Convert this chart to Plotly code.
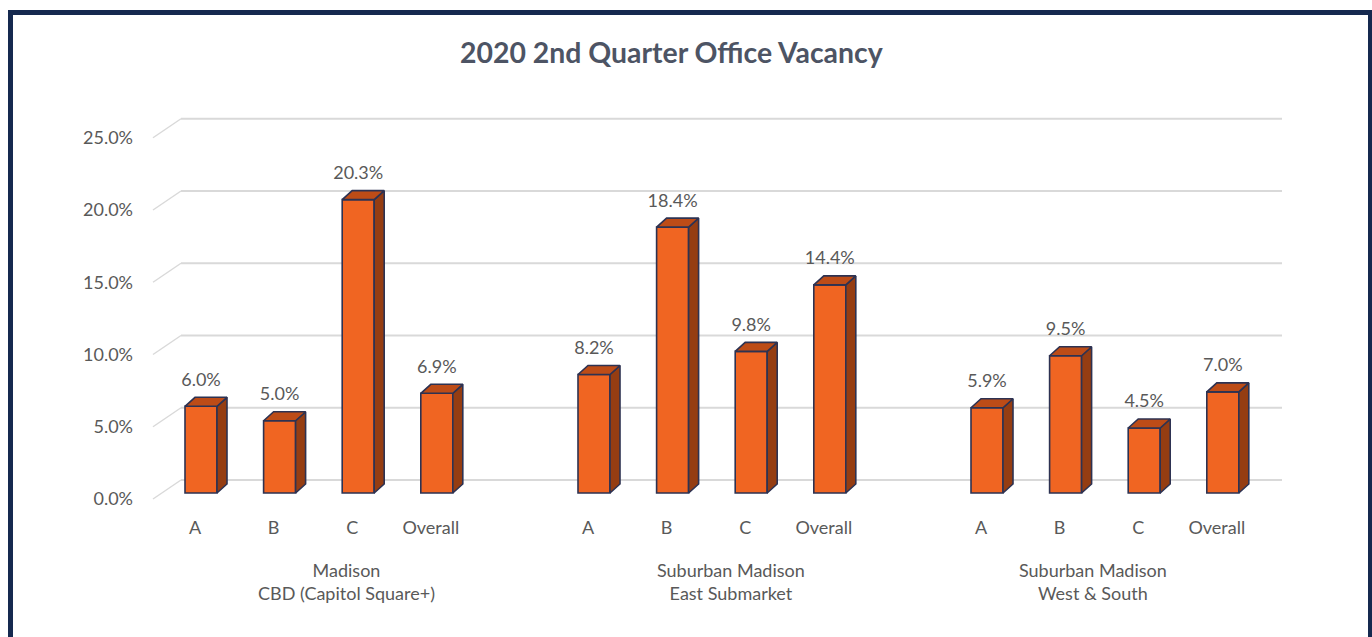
import plotly.graph_objects as go

# ---------------- data ----------------
title_text = "2020 2nd Quarter Office Vacancy"
group_labels = ["Madison<br>CBD (Capitol Square+)",
                "Suburban Madison<br>East Submarket",
                "Suburban Madison<br>West & South"]
classes = ["A", "B", "C", "Overall"]
madison_cbd = [6.0, 5.0, 20.3, 6.9]
suburban_east = [8.2, 18.4, 9.8, 14.4]
suburban_west = [5.9, 9.5, 4.5, 7.0]
y_ticks = [0, 5, 10, 15, 20, 25]

series = [madison_cbd, suburban_east, suburban_west]

# ---------------- layout geometry (pixels) ----------------
W, H = 1372, 637
ML, MR, MT, MB = 150, 82, 100, 132
PLOT_W = W - ML - MR
PLOT_H = H - MT - MB
PX_X = 78.6     # px per category slot
PX_Y = 14.45    # px per percentage point
FIRST_BAR_PX = 201
ZERO_PX = 493

x_lo = -(FIRST_BAR_PX - ML) / PX_X
x_hi = x_lo + PLOT_W / PX_X
y_lo = -((H - MB) - ZERO_PX) / PX_Y
y_hi = y_lo + PLOT_H / PX_Y


def dx(px):
    return px / PX_X


def dy(px):
    return px / PX_Y


def paper_x(px):
    return (px - ML) / PLOT_W


def paper_y(py):
    return ((H - MB) - py) / PLOT_H


BAR_W = dx(32)
DEPTH_X = dx(10)
DEPTH_Y = dy(9)
TICK_PLANE = -dy(6)          # tick labels sit slightly in front of bars
WALL_DX = dx(28)             # side wall depth
WALL_DY = dy(19)
GRID_RIGHT = x_lo + dx(1282 - ML)
SLOTS_PER_GROUP = 5

FRONT = "#f06522"
TOP = "#bd4c17"
SIDE = "#953d12"
EDGE = "#2d3252"
GRID = "#d9d9d9"
TEXT = "#595959"
FONT = "Lato"

xs, vals, cats = [], [], []
for g, vals_g in enumerate(series):
    for k, v in enumerate(vals_g):
        xs.append(g * SLOTS_PER_GROUP + k)
        vals.append(v)
        cats.append(classes[k])

fig = go.Figure()

# front faces
fig.add_trace(go.Bar(
    x=xs, y=vals, width=BAR_W,
    marker=dict(color=FRONT, line=dict(color=EDGE, width=1.6)),
    hoverinfo="skip", showlegend=False))

# side faces and top faces
side_x, side_y, top_x, top_y = [], [], [], []
for c, v in zip(xs, vals):
    r = c + BAR_W / 2
    l = c - BAR_W / 2
    side_x += [r, r + DEPTH_X, r + DEPTH_X, r, r, None]
    side_y += [0, DEPTH_Y, v + DEPTH_Y, v, 0, None]
    top_x += [l, l + DEPTH_X, r + DEPTH_X, r, l, None]
    top_y += [v, v + DEPTH_Y, v + DEPTH_Y, v, v, None]

fig.add_trace(go.Scatter(x=side_x, y=side_y, mode="lines", fill="toself",
                         fillcolor=SIDE, line=dict(color=EDGE, width=1.6),
                         hoverinfo="skip", showlegend=False))
fig.add_trace(go.Scatter(x=top_x, y=top_y, mode="lines", fill="toself",
                         fillcolor=TOP, line=dict(color=EDGE, width=1.6),
                         hoverinfo="skip", showlegend=False))

# data labels
fig.add_trace(go.Scatter(
    x=xs, y=[v + dy(25) for v in vals], mode="text",
    text=[f"{v:.1f}%" for v in vals], textposition="middle center",
    textfont=dict(family=FONT, size=18, color=TEXT),
    hoverinfo="skip", showlegend=False))

# back wall + side wall gridlines
shapes = []
wall_front_x = x_lo + dx(3)
for t in y_ticks:
    y_front = t + TICK_PLANE
    y_back = y_front + WALL_DY
    shapes.append(dict(type="line", xref="x", yref="y", layer="below",
                       x0=wall_front_x, y0=y_front,
                       x1=wall_front_x + WALL_DX, y1=y_back,
                       line=dict(color=GRID, width=1.5)))
    shapes.append(dict(type="line", xref="x", yref="y", layer="below",
                       x0=wall_front_x + WALL_DX, y0=y_back,
                       x1=GRID_RIGHT, y1=y_back,
                       line=dict(color=GRID, width=2.2)))

# outer navy frame
shapes.append(dict(type="rect", xref="paper", yref="paper", layer="above",
                   x0=paper_x(10.5), x1=paper_x(1370.5),
                   y0=paper_y(660), y1=paper_y(12.5),
                   line=dict(color="#15294f", width=5),
                   fillcolor="rgba(0,0,0,0)"))

annotations = [dict(text=title_text, xref="paper", yref="paper",
                    x=paper_x(671), y=paper_y(52), xanchor="center",
                    yanchor="middle", showarrow=False,
                    font=dict(family=FONT, size=28.4, color="#4d5464",
                              weight="bold"))]

group_shift_px = [28, 19, -12]
for g, lab in enumerate(group_labels):
    center = g * SLOTS_PER_GROUP + (len(classes) - 1) / 2
    annotations.append(dict(text=lab, xref="x", yref="paper",
                            x=center + dx(group_shift_px[g]),
                            y=paper_y(581), xanchor="center",
                            yanchor="middle", showarrow=False,
                            font=dict(family=FONT, size=18, color=TEXT)))

fig.update_layout(
    width=W, height=H, autosize=False,
    margin=dict(l=ML, r=MR, t=MT, b=MB, pad=0),
    paper_bgcolor="white", plot_bgcolor="white",
    shapes=shapes, annotations=annotations,
    showlegend=False,
    xaxis=dict(range=[x_lo, x_hi], showgrid=False, zeroline=False,
               showline=False, ticks="",
               tickvals=[x - dx(6) for x in xs], ticktext=cats,
               tickfont=dict(family=FONT, size=18, color=TEXT),
               ticklabelstandoff=10),
    yaxis=dict(range=[y_lo, y_hi], showgrid=False, zeroline=False,
               showline=False, ticks="",
               tickvals=[t + TICK_PLANE for t in y_ticks],
               ticktext=[f"{t:.1f}%" for t in y_ticks],
               tickfont=dict(family=FONT, size=18, color=TEXT),
               ticklabelstandoff=16),
)

fig.write_html("out.html")
